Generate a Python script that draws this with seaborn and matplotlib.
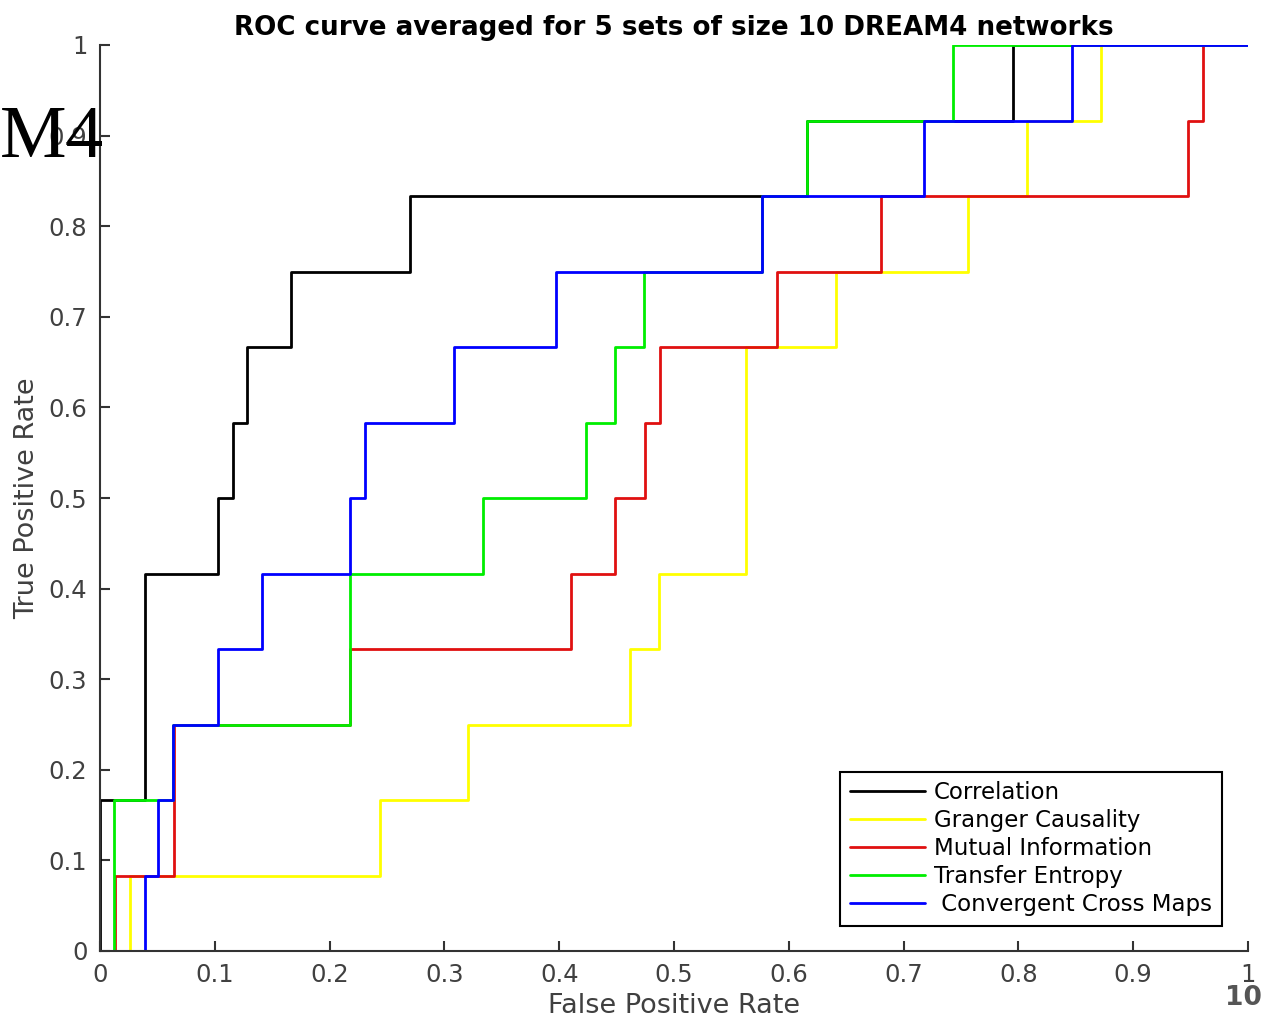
import matplotlib
matplotlib.use("Agg")
import matplotlib.pyplot as plt
import seaborn as sns
import pandas as pd

# ROC step curves: (FPR, TPR) breakpoints, drawn as steps-post
corr_fpr = [0, 0, 0.039, 0.103, 0.116, 0.128, 0.166, 0.270, 0.6158, 0.795, 1.0]
corr_tpr = [0, 1/6, 5/12, 6/12, 7/12, 8/12, 9/12, 10/12, 11/12, 1.0, 1.0]

gc_fpr = [0, 0.026, 0.244, 0.3206, 0.4617, 0.487, 0.5627, 0.641, 0.756, 0.8075, 0.872, 1.0]
gc_tpr = [0, 1/12, 2/12, 3/12, 4/12, 5/12, 8/12, 9/12, 10/12, 11/12, 1.0, 1.0]

mi_fpr = [0, 0.013, 0.0645, 0.2178, 0.410, 0.4486, 0.4747, 0.4878, 0.5897, 0.680, 0.948, 0.961, 1.0]
mi_tpr = [0, 1/12, 3/12, 4/12, 5/12, 6/12, 7/12, 8/12, 9/12, 10/12, 11/12, 1.0, 1.0]

te_fpr = [0, 0.0122, 0.0636, 0.2178, 0.3336, 0.4233, 0.4486, 0.4739, 0.577, 0.6158, 0.743, 1.0]
te_tpr = [0, 2/12, 3/12, 5/12, 6/12, 7/12, 8/12, 9/12, 10/12, 11/12, 1.0, 1.0]

ccm_fpr = [0, 0.039, 0.0505, 0.0636, 0.103, 0.141, 0.218, 0.231, 0.308, 0.397, 0.577, 0.718, 0.847, 1.0]
ccm_tpr = [0, 1/12, 2/12, 3/12, 4/12, 5/12, 6/12, 7/12, 8/12, 9/12, 10/12, 11/12, 1.0, 1.0]

methods = ["Correlation", "Granger Causality", "Mutual Information",
           "Transfer Entropy", " Convergent Cross Maps"]
colors = ["#000000", "#ffff00", "#e01010", "#00ee00", "#0000ff"]
curves = [(corr_fpr, corr_tpr), (gc_fpr, gc_tpr), (mi_fpr, mi_tpr),
          (te_fpr, te_tpr), (ccm_fpr, ccm_tpr)]

xticks = [0, 0.1, 0.2, 0.3, 0.4, 0.5, 0.6, 0.7, 0.8, 0.9, 1]
xticklabels = ["0", "0.1", "0.2", "0.3", "0.4", "0.5", "0.6", "0.7", "0.8", "0.9", "1"]
yticks = [0, 0.1, 0.2, 0.3, 0.4, 0.5, 0.6, 0.7, 0.8, 0.9, 1]
yticklabels = ["0", "0.1", "0.2", "0.3", "0.4", "0.5", "0.6", "0.7", "0.8", "0.9", "1"]

sns.set_style("white")
plt.rcParams["font.family"] = ["DejaVu Sans"]

fig = plt.figure(figsize=(12.7, 10.24), dpi=100)
ax = fig.add_axes([100/1270, 73/1024, 1148/1270, 906/1024])

for (fx, ty), name, c in zip(curves, methods, colors):
    df = pd.DataFrame({"fpr": fx, "tpr": ty})
    sns.lineplot(data=df, x="fpr", y="tpr", ax=ax, sort=False, estimator=None,
                 drawstyle="steps-post", color=c, lw=2.0, label=name)

ax.set_xlim(0, 1)
ax.set_ylim(0, 1)
ax.set_xticks(xticks)
ax.set_xticklabels(xticklabels)
ax.set_yticks(yticks)
ax.set_yticklabels(yticklabels)
ax.tick_params(direction="in", length=7, width=1.5, color="#333333",
               labelcolor="#404040", labelsize=17.5, pad=9, left=True, bottom=True)
for side in ["top", "right"]:
    ax.spines[side].set_visible(False)
for side in ["left", "bottom"]:
    ax.spines[side].set_color("#333333")
    ax.spines[side].set_linewidth(1.5)

ax.set_xlabel("False Positive Rate", fontsize=19.5, color="#404040", labelpad=4)
ax.set_ylabel("True Positive Rate", fontsize=19.5, color="#404040", labelpad=6)
ax.set_title("ROC curve averaged for 5 sets of size 10 DREAM4 networks",
             fontsize=18.8, fontweight="bold", color="black", pad=7)

leg = ax.legend(loc="lower right", bbox_to_anchor=(0.977, 0.0276), borderaxespad=0,
                fontsize=16.5, handlelength=3.3, labelspacing=0.22, fancybox=False,
                framealpha=1, edgecolor="black", borderpad=0.42, handletextpad=0.38)
leg.get_frame().set_linewidth(1.5)
for t in leg.get_texts():
    t.set_color("black")

fig.text(0.0, 1 - 157/1024, "M4", ha="left", va="baseline", fontsize=54,
         family="Liberation Serif", color="black")
fig.text(1262/1270, 1 - 1005/1024, "10", ha="right", va="baseline", fontsize=19,
         fontweight="bold", color="#555555")

fig.savefig("out.png", dpi=100)
